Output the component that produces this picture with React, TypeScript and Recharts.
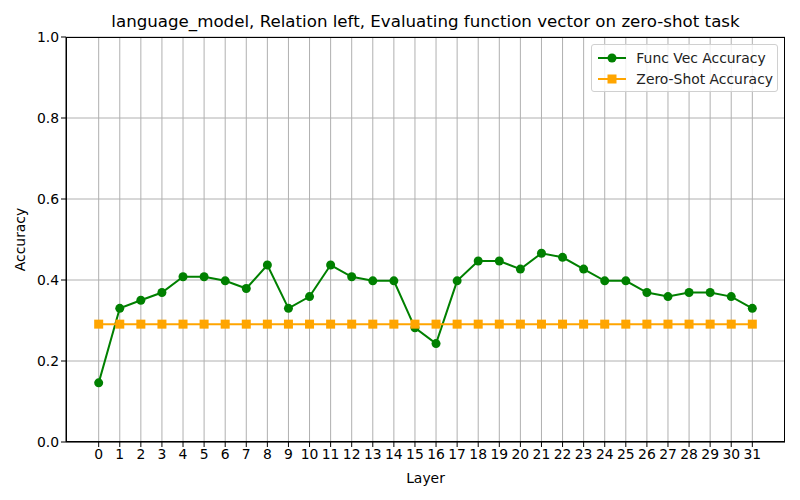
import { LineChart, Line, XAxis, YAxis, CartesianGrid } from "recharts";

const layers = Array.from({ length: 32 }, (_, i) => i);
const funcVecAcc = [
  0.146, 0.33, 0.35, 0.369, 0.408, 0.408, 0.398, 0.379, 0.437, 0.33, 0.359,
  0.437, 0.408, 0.398, 0.398, 0.282, 0.243, 0.398, 0.447, 0.447, 0.427, 0.466,
  0.456, 0.427, 0.398, 0.398, 0.369, 0.359, 0.369, 0.369, 0.359, 0.33,
];
const zeroShotAcc = layers.map(() => 0.291);
const yTicks = [0, 0.2, 0.4, 0.6, 0.8, 1.0];

const data = layers.map((layer, i) => ({
  layer,
  funcVec: funcVecAcc[i],
  zeroShot: zeroShotAcc[i],
}));

const GREEN = "#008000";
const ORANGE = "#FFA500";
const FONT = "DejaVu Sans, sans-serif";
const TICK_FS = 13.9;

const SquareDot = (props: any) => {
  const { cx, cy, index } = props;
  if (cx == null || cy == null) return null;
  return <rect key={index} x={cx - 4.5} y={cy - 4.5} width={9} height={9} fill={ORANGE} />;
};

const LegendBox = () => (
  <div
    style={{
      position: "absolute",
      top: 44,
      right: 22,
      background: "rgba(255,255,255,0.8)",
      border: "1px solid #d0d0d0",
      borderRadius: 3,
      padding: "2px 4px 2px 6px",
      fontFamily: FONT,
      fontSize: TICK_FS,
      color: "#222",
    }}
  >
    <div style={{ display: "flex", alignItems: "center", height: 21 }}>
      <svg width={28} height={12} style={{ marginRight: 10 }}>
        <line x1={0} y1={6} x2={28} y2={6} stroke={GREEN} strokeWidth={2} />
        <circle cx={14} cy={6} r={4.5} fill={GREEN} />
      </svg>
      Func Vec Accuracy
    </div>
    <div style={{ display: "flex", alignItems: "center", height: 21 }}>
      <svg width={28} height={12} style={{ marginRight: 10 }}>
        <line x1={0} y1={6} x2={28} y2={6} stroke={ORANGE} strokeWidth={2} />
        <rect x={9.5} y={1.5} width={9} height={9} fill={ORANGE} />
      </svg>
      Zero-Shot Accuracy
    </div>
  </div>
);

export default function App() {
  return (
    <div style={{ position: "absolute", left: 0, top: 0, width: 800, height: 500, background: "#fff" }}>
      <div
        style={{
          position: "absolute",
          top: 12,
          left: 66,
          width: 719,
          textAlign: "center",
          fontFamily: FONT,
          fontSize: 16.67,
          color: "#000",
        }}
      >
        language_model, Relation left, Evaluating function vector on zero-shot task
      </div>
      <LineChart
        width={800}
        height={500}
        data={data}
        margin={{ top: 37, right: 15, bottom: 13, left: 16 }}
      >
        <CartesianGrid stroke="#b0b0b0" strokeWidth={1} verticalValues={layers} horizontalValues={yTicks} />
        <XAxis
          dataKey="layer"
          type="number"
          domain={[-1.55, 32.55]}
          ticks={layers}
          interval={0}
          allowDataOverflow
          height={45}
          stroke="#000"
          tickSize={5}
          tick={{ fill: "#000", fontSize: TICK_FS, fontFamily: FONT }}
          label={{ value: "Layer", position: "insideBottom", offset: 4, fill: "#000", fontSize: TICK_FS, fontFamily: FONT }}
        />
        <YAxis
          type="number"
          domain={[0, 1]}
          ticks={yTicks}
          width={50}
          stroke="#000"
          tickSize={5}
          tickFormatter={(v: number) => v.toFixed(1)}
          tick={{ fill: "#000", fontSize: TICK_FS, fontFamily: FONT }}
          label={{ value: "Accuracy", angle: -90, position: "insideLeft", offset: 0, dx: 4, fill: "#000", fontSize: TICK_FS, fontFamily: FONT, style: { textAnchor: "middle" } }}
        />
        <Line
          dataKey="funcVec"
          name="Func Vec Accuracy"
          stroke={GREEN}
          strokeWidth={2}
          dot={{ r: 4.5, fill: GREEN, stroke: GREEN, strokeWidth: 0 }}
          activeDot={false}
          isAnimationActive={false}
        />
        <Line
          dataKey="zeroShot"
          name="Zero-Shot Accuracy"
          stroke={ORANGE}
          strokeWidth={2}
          dot={<SquareDot />}
          activeDot={false}
          isAnimationActive={false}
        />
      </LineChart>
      <div
        style={{
          position: "absolute",
          left: 66,
          top: 37,
          width: 719,
          height: 405,
          border: "1px solid #000",
          boxSizing: "border-box",
          pointerEvents: "none",
        }}
      />
      <LegendBox />
    </div>
  );
}
